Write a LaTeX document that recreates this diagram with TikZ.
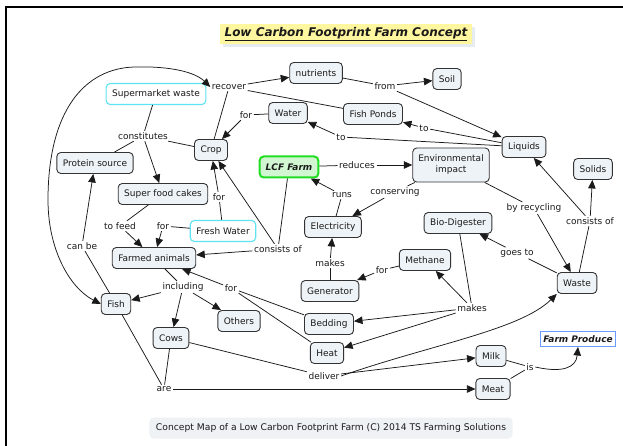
\documentclass[tikz,border=0pt]{standalone}
\usepackage{fontspec}
\setmainfont{DejaVu Sans}
\usetikzlibrary{arrows.meta}

\definecolor{panel}{HTML}{EEF3F7}
\definecolor{edge}{HTML}{333333}
\definecolor{inkc}{HTML}{1A1A1A}
\definecolor{cyanedge}{HTML}{5EE3F2}
\definecolor{greenedge}{HTML}{22DD22}
\definecolor{greenfill}{HTML}{D2F6D2}
\definecolor{blueedge}{HTML}{6A9BFF}
\definecolor{titlefill}{HTML}{FFF7A0}
\definecolor{titleshade}{HTML}{E6ECF0}
\definecolor{capfill}{HTML}{EEF2F4}

\tikzset{
  concept/.style={draw=edge, line width=0.9pt, rounded corners=4pt, fill=panel,
    inner xsep=6pt, inner ysep=0pt, minimum height=21pt, text=inkc,
    font=\fontsize{9}{11}\selectfont, align=center},
  source/.style={concept, draw=cyanedge, line width=1.1pt, fill=white},
  hub/.style={concept, draw=greenedge, line width=2pt, fill=greenfill,
    font=\fontsize{9}{11}\selectfont\bfseries\itshape},
  product/.style={concept, rounded corners=0pt, draw=blueedge, line width=1pt,
    fill=white, minimum height=15pt, inner xsep=3pt,
    font=\fontsize{9}{11}\selectfont\bfseries\itshape},
  linker/.style={inner sep=1.5pt, text=inkc, font=\fontsize{9}{11}\selectfont},
  link/.style={line width=0.75pt, draw=inkc},
  arr/.style={link, -{Triangle[length=8.5pt,width=7.5pt]}},
  both/.style={link, {Triangle[length=8.5pt,width=7.5pt]}-{Triangle[length=8.5pt,width=7.5pt]}},
}

\begin{document}
\begin{tikzpicture}[x=1pt,y=-1pt]
\useasboundingbox (0,0) rectangle (623,446);
\fill[white] (0,0) rectangle (623,446);

% frame lines along the top and the left side
\draw[line width=2pt, black] (623,7.5) -- (6,7.5) -- (6,446);

% title with its pale shadow
\fill[titleshade] (223,27) rectangle (475,47);
\node[fill=titlefill, minimum width=252pt, minimum height=20pt, inner sep=0pt,
  font=\fontsize{12}{14}\selectfont\bfseries\itshape, text=inkc] (title) at (346,34)
  {\underline{Low Carbon Footprint Farm Concept}};

% concepts
\node[concept] (nutrients) at (316,73) {nutrients};
\node[concept] (soil) at (447,79) {Soil};
\node[source] (smw) at (156,94) {Supermarket waste};
\node[concept] (water) at (288,113) {Water};
\node[concept] (fishponds) at (373,114) {Fish Ponds};
\node[concept] (liquids) at (524,147) {Liquids};
\node[concept] (crop) at (211,150) {Crop};
\node[concept] (protein) at (95,163) {Protein source};
\node[hub] (lcf) at (289,167) {LCF Farm};
\node[concept, minimum height=34pt, inner xsep=5.5pt] (env) at (451,165) {Environmental\\impact};
\node[concept] (solids) at (593,169) {Solids};
\node[concept] (sfc) at (163,194) {Super food cakes};
\node[concept] (biod) at (458,223) {Bio-Digester};
\node[concept] (elec) at (333,227) {Electricity};
\node[source] (fresh) at (223,231) {Fresh Water};
\node[concept] (farmed) at (154,258) {Farmed animals};
\node[concept] (methane) at (425,260) {Methane};
\node[concept] (waste) at (577,283) {Waste};
\node[concept] (gen) at (330,291) {Generator};
\node[concept] (fish) at (116,304) {Fish};
\node[concept] (others) at (239,321) {Others};
\node[concept] (bedding) at (329,324) {Bedding};
\node[concept] (cows) at (171,338) {Cows};
\node[product] (produce) at (578,339) {Farm Produce};
\node[concept] (heat) at (327,353) {Heat};
\node[concept] (milk) at (491,356) {Milk};
\node[concept] (meat) at (493,389) {Meat};

% linking phrases
\node[linker] (recover) at (229,87) {recover};
\node[linker] (from) at (385,86) {from};
\node[linker] (forwater) at (246,115) {for};
\node[linker] (toponds) at (424,128) {to};
\node[linker] (towater) at (341,137) {to};
\node[linker] (constit) at (143,136) {constitutes};
\node[linker] (reduces) at (357,165) {reduces};
\node[linker] (forcrop) at (219,197) {for};
\node[linker] (runs) at (342,195) {runs};
\node[linker] (conserving) at (395,192) {conserving};
\node[linker] (byrec) at (534,208) {by recycling};
\node[linker] (consistsw) at (590,221) {consists of};
\node[linker] (tofeed) at (120,226) {to feed};
\node[linker] (foranimals) at (163,226) {for};
\node[linker] (consistsf) at (278,249) {consists of};
\node[linker] (canbe) at (82,246) {can be};
\node[linker] (goesto) at (517,253) {goes to};
\node[linker] (makesgen) at (330,263) {makes};
\node[linker] (formeth) at (382,270) {for};
\node[linker] (including) at (183,287) {including};
\node[linker] (forbed) at (231,288) {for};
\node[linker] (makesbio) at (472,308) {makes};
\node[linker] (deliver) at (324,376) {deliver};
\node[linker] (is) at (530,367) {is};
\node[linker] (are) at (164,389) {are};

% caption
\node[fill=capfill, rounded corners=4pt, minimum height=21pt, inner xsep=6.5pt,
  inner ysep=0pt, text=inkc, font=\fontsize{9.2}{11}\selectfont] (caption) at (331,428)
  {Concept Map of a Low Carbon Footprint Farm (C) 2014 TS Farming Solutions};

% connectors
\draw[link] (crop) -- (recover);
\draw[link] (fishponds) -- (recover);
\draw[arr] (recover) -- (nutrients);
\draw[link] (nutrients) -- (from);
\draw[arr] (from) -- (soil);
\draw[arr] (from) -- (liquids);
\draw[link] (liquids) -- (toponds);
\draw[arr] (toponds) -- (fishponds);
\draw[link] (liquids) -- (towater);
\draw[arr] (towater) -- (water);
\draw[link] (water) -- (forwater);
\draw[arr] (forwater) -- (crop);
\draw[link] (smw) -- (constit);
\draw[link] (crop) -- (constit);
\draw[link] (protein) -- (constit);
\draw[arr] (constit) -- (sfc);
\draw[link] (sfc) -- (tofeed);
\draw[arr] (tofeed) -- (farmed);
\draw[link] (fresh) -- (foranimals);
\draw[arr] (foranimals) -- (farmed);
\draw[link] (fresh) -- (forcrop);
\draw[arr] (forcrop) -- (crop);
\draw[link] (lcf) -- (consistsf);
\draw[arr] (consistsf) -- (crop);
\draw[arr] (consistsf) -- (farmed);
\draw[link] (lcf) -- (reduces);
\draw[arr] (reduces) -- (env);
\draw[link] (env) -- (conserving);
\draw[arr] (conserving) -- (elec);
\draw[link] (elec) -- (runs);
\draw[arr] (runs) -- (lcf);
\draw[link] (env) -- (byrec);
\draw[arr] (byrec) -- (waste);
\draw[link] (waste) -- (consistsw);
\draw[arr] (consistsw) -- (liquids);
\draw[arr] (consistsw) -- (solids);
\draw[link] (waste) -- (goesto);
\draw[arr] (goesto) -- (biod);
\draw[link] (biod) -- (makesbio);
\draw[arr] (makesbio) -- (methane);
\draw[arr] (makesbio) -- (bedding);
\draw[arr] (makesbio) -- (heat);
\draw[link] (methane) -- (formeth);
\draw[arr] (formeth) -- (gen);
\draw[link] (gen) -- (makesgen);
\draw[arr] (makesgen) -- (elec);
\draw[link] (bedding) -- (forbed);
\draw[link] (heat) -- (forbed);
\draw[arr] (forbed) -- (farmed);
\draw[link] (farmed) -- (including);
\draw[arr] (including) -- (fish);
\draw[arr] (including) -- (cows);
\draw[arr] (including) -- (others);
\draw[link] (fish) -- (canbe);
\draw[arr] (canbe) -- (protein);
\draw[link] (fish) -- (are);
\draw[link] (cows) -- (are);
\draw[arr] (are) -- (meat);
\draw[link] (cows) -- (deliver);
\draw[arr] (deliver) -- (milk);
\draw[arr] (deliver.east) .. controls (430,345) and (520,330) .. (waste.south west);
\draw[link] (milk) -- (is);
\draw[link] (meat) -- (is);
\draw[arr] (is.east) .. controls (562,373) and (576,368) .. (produce.south);
% long loop between Fish and recover
\draw[both] (fish.west) .. controls (70,288) and (48,250) .. (48,200)
  .. controls (48,110) and (85,68) .. (135,67)
  .. controls (170,66) and (195,72) .. (recover.west);
\end{tikzpicture}
\end{document}
